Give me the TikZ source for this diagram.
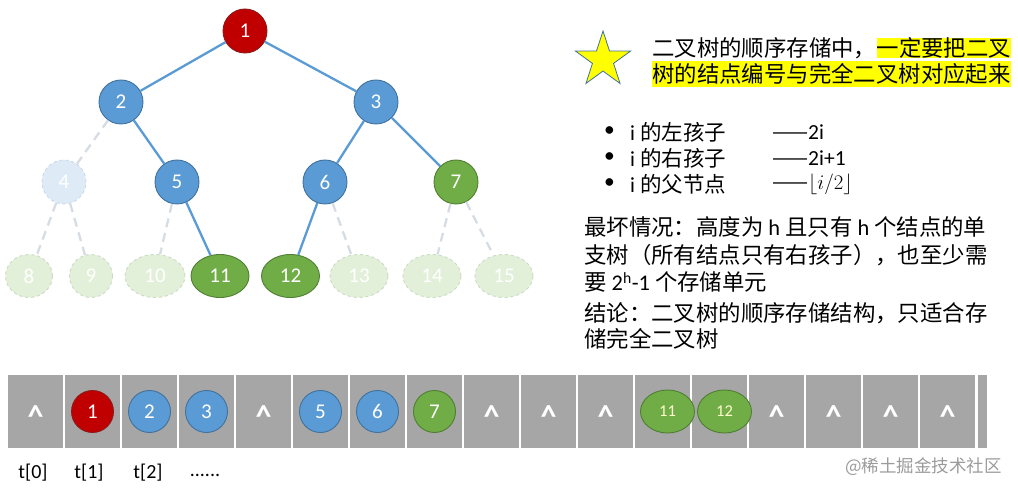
\documentclass[tikz,border=0pt]{standalone}
\usepackage{fontspec}
\setmainfont{Carlito}
\newfontfamily\cjk{Noto Sans CJK SC}
\usetikzlibrary{shapes.geometric,positioning}
\definecolor{rootred}{HTML}{C00000}
\definecolor{rootredline}{HTML}{8C1A1A}
\definecolor{nodeblue}{HTML}{5B9BD5}
\definecolor{nodeblueline}{HTML}{41719C}
\definecolor{nodegreen}{HTML}{70AD47}
\definecolor{nodegreenline}{HTML}{507E32}
\definecolor{ghostblue}{HTML}{DEEBF7}
\definecolor{ghostblueline}{HTML}{C9D8EA}
\definecolor{ghostgreen}{HTML}{E2F0D9}
\definecolor{ghostgreenline}{HTML}{CCD9C4}
\definecolor{ghostedge}{HTML}{D6DCE4}
\definecolor{cellgrey}{HTML}{A6A6A6}
\definecolor{marker}{HTML}{FFFF00}
\definecolor{markgrey}{HTML}{9B9B9B}
\newcommand{\numfont}{\fontsize{21}{25}\selectfont}
\newcommand{\smallnumfont}{\fontsize{16.5}{19}\selectfont}
\newcommand{\notefont}{\fontsize{22.4}{27}\selectfont}
\newcommand{\listfont}{\fontsize{21.5}{26}\selectfont}
\newcommand{\indexfont}{\fontsize{20}{24}\selectfont}
\newcommand{\caretfont}{\fontsize{32}{36}\selectfont\bfseries}
\newcommand{\markfont}{\fontsize{17.5}{21}\selectfont}

\begin{document}
\begin{tikzpicture}[x=1pt,y=-1pt,
  treenode/.style={circle,minimum size=44pt,inner sep=0pt,line width=0.9pt,
    text=white,font=\numfont},
  rootnode/.style={treenode,fill=rootred,draw=rootredline},
  bluenode/.style={treenode,fill=nodeblue,draw=nodeblueline},
  greennode/.style={treenode,fill=nodegreen,draw=nodegreenline},
  leafnode/.style={greennode,ellipse,minimum width=58pt,minimum height=43pt},
  ghostnode/.style={treenode,fill=ghostblue,draw=ghostblueline,dashed},
  ghostleaf/.style={treenode,ellipse,minimum height=43pt,fill=ghostgreen,
    draw=ghostgreenline,dashed},
  link/.style={draw=nodeblue,line width=2.3pt},
  ghostlink/.style={draw=ghostedge,line width=2.3pt,dash pattern=on 9pt off 6pt},
  say/.style={anchor=west,inner sep=0pt,font=\notefont},
  listline/.style={anchor=west,inner sep=0pt,font=\listfont},
  cell/.style={fill=cellgrey,minimum width=55.5pt,minimum height=73pt,inner sep=0pt},
  caret/.style={text=white,font=\caretfont,inner sep=0pt},
  idx/.style={font=\indexfont,inner sep=0pt}]
  \useasboundingbox (0,0) rectangle (1018,494);

  % Tree.
  \node[rootnode] (n1) at (245,31) {1};
  \node[bluenode] (n2) at (121,102) {2};
  \node[bluenode] (n3) at (376,102) {3};
  \node[ghostnode] (n4) at (64,182) {4};
  \node[bluenode] (n5) at (177,182) {5};
  \node[bluenode] (n6) at (325,182) {6};
  \node[greennode] (n7) at (456,182) {7};
  \node[ghostleaf,minimum width=47pt] (n8) at (29,276) {8};
  \node[ghostleaf,minimum width=43pt] (n9) at (91,276) {9};
  \node[ghostleaf,minimum width=60pt] (n10) at (155,276) {10};
  \node[leafnode] (n11) at (220,276) {11};
  \node[leafnode] (n12) at (290.5,276) {12};
  \node[ghostleaf,minimum width=58pt] (n13) at (359,276) {13};
  \node[ghostleaf,minimum width=58pt] (n14) at (432,276) {14};
  \node[ghostleaf,minimum width=58pt] (n15) at (504,276) {15};
  \draw[link] (n1) -- (n2);
  \draw[link] (n1) -- (n3);
  \draw[link] (n2) -- (n5);
  \draw[link] (n3) -- (n6);
  \draw[link] (n3) -- (n7);
  \draw[link] (n5) -- (n11);
  \draw[link] (n6) -- (n12);
  \draw[ghostlink] (n2) -- (n4);
  \draw[ghostlink] (n4) -- (n8);
  \draw[ghostlink] (n4) -- (n9);
  \draw[ghostlink] (n5) -- (n10);
  \draw[ghostlink] (n6) -- (n13);
  \draw[ghostlink] (n7) -- (n14);
  \draw[ghostlink] (n7) -- (n15);

  % Notes on the right.
  \node[star,star points=5,star point ratio=2.618,minimum size=58pt,inner sep=0pt,
    fill=marker,draw=nodeblueline,line width=0.8pt] (star) at (603,60) {};
  \node[say] (q1) at (652,48) {\cjk 二叉树的顺序存储中，};
  \node[say,fill=marker,right=0pt of q1] (q2) {\cjk 一定要把二叉};
  \node[say,fill=marker,inner ysep=2.5pt] (q3) at (652,74) {\cjk 树的结点编号与完全二叉树对应起来};

  \node[listline] (b1) at (604,132) {\textbullet};
  \node[listline] (b2) at (604,158) {\textbullet};
  \node[listline] (b3) at (604,184) {\textbullet};
  \node[listline] (l1) at (630,132) {i {\cjk 的左孩子}};
  \node[listline] (l2) at (630,158) {i {\cjk 的右孩子}};
  \node[listline] (l3) at (630,184) {i {\cjk 的父节点}};
  \node[listline] (r1) at (772,132) {{\cjk ——}2i};
  \node[listline] (r2) at (772,158) {{\cjk ——}2i+1};
  \node[listline] (r3) at (772,184) {{\cjk ——}$\lfloor i/2\rfloor$};

  \node[say] (p1) at (584,227) {{\cjk 最坏情况：高度为} h {\cjk 且只有} h {\cjk 个结点的单}};
  \node[say] (p2) at (584,255) {\cjk 支树（所有结点只有右孩子），也至少需};
  \node[say] (p3) at (584,282) {{\cjk 要} 2\textsuperscript{h}-1 {\cjk 个存储单元}};
  \node[say] (p4) at (584,313) {\cjk 结论：二叉树的顺序存储结构，只适合存};
  \node[say] (p5) at (584,339) {\cjk 储完全二叉树};

  % Array t[].
  \foreach \i in {0,...,16}
    \node[cell] (c\i) at (35.5+57*\i,411.5) {};
  \node[cell,minimum width=9pt] (c17) at (982.5,411.5) {};
  \foreach \i in {0,4,8,9,10,13,14,15,16}
    \node[caret] (k\i) at ([yshift=-5pt]c\i) {\textasciicircum};
  \node[rootnode,minimum size=42pt] (a1) at (c1) {1};
  \node[bluenode,minimum size=42pt] (a2) at (c2) {2};
  \node[bluenode,minimum size=42pt] (a3) at (c3) {3};
  \node[bluenode,minimum size=42pt] (a5) at (c5) {5};
  \node[bluenode,minimum size=42pt] (a6) at (c6) {6};
  \node[greennode,minimum size=42pt] (a7) at (c7) {7};
  \node[leafnode,minimum width=54pt,font=\smallnumfont,text=white!80!yellow]
    (a11) at ([xshift=5pt]c11) {11};
  \node[leafnode,minimum width=54pt,font=\smallnumfont,text=white!80!yellow]
    (a12) at ([xshift=5pt]c12) {12};

  \node[idx] (t0) at (33,473) {t[0]};
  \node[idx] (t1) at (89,473) {t[1]};
  \node[idx] (t2) at (148,473) {t[2]};
  \node[idx] (dots) at (205,475) {......};
  \node[anchor=east,inner sep=0pt,font=\markfont,text=markgrey] (wm) at (1002,467)
    {\cjk @稀土掘金技术社区};
\end{tikzpicture}
\end{document}
